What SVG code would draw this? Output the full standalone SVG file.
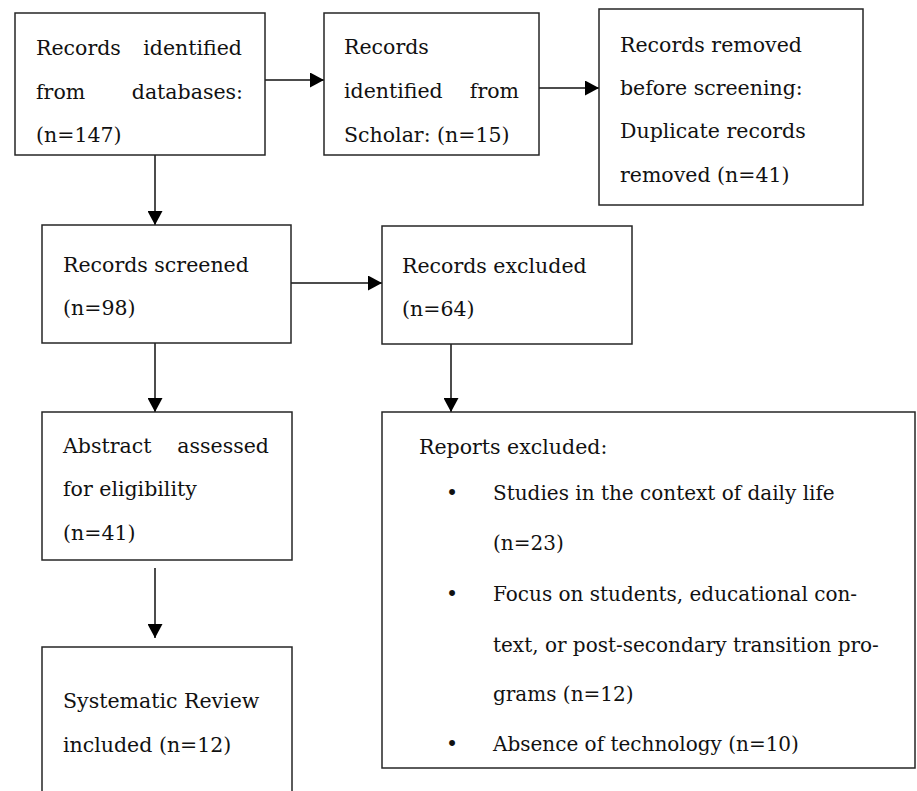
<svg xmlns="http://www.w3.org/2000/svg" width="917" height="791" viewBox="0 0 917 791">
<style>
  .box { fill: #ffffff; stroke: #262626; stroke-width: 1.5; }
  .t { font-family: "DejaVu Serif", "Liberation Serif", serif; font-size: 20.5px; fill: #111111; }
  .s { font-size: 20px; }
  .e { text-anchor: end; }
  .b { text-anchor: middle; }
  .conn line { stroke: #111111; stroke-width: 1.5; fill: none; marker-end: url(#arrow); }
</style>
<defs>
  <marker id="arrow" markerUnits="userSpaceOnUse" markerWidth="14" markerHeight="15" refX="14" refY="7.5" orient="auto">
    <path d="M0,0 L14,7.5 L0,15 z" fill="#000000"/>
  </marker>
</defs>
<rect width="917" height="791" fill="#ffffff"/>

<g id="connectors" class="conn">
  <line x1="265" y1="80" x2="324" y2="80"/>
  <line x1="539" y1="88" x2="599" y2="88"/>
  <line x1="155" y1="155" x2="155" y2="225"/>
  <line x1="291" y1="283" x2="382" y2="283"/>
  <line x1="155" y1="343" x2="155" y2="412"/>
  <line x1="451" y1="344" x2="451" y2="412"/>
  <line x1="155" y1="568" x2="155" y2="638"/>
</g>

<g id="n-databases">
  <rect class="box" x="15" y="13" width="250" height="142"/>
  <text class="t" x="36" y="55">Records</text>
  <text class="t e" x="242" y="55">identified</text>
  <text class="t" x="36" y="99">from</text>
  <text class="t e" x="243" y="99">databases:</text>
  <text class="t" x="36" y="142">(n=147)</text>
</g>

<g id="n-scholar">
  <rect class="box" x="324" y="13" width="215" height="142"/>
  <text class="t" x="344" y="54">Records</text>
  <text class="t" x="344" y="98">identified</text>
  <text class="t e" x="519" y="98">from</text>
  <text class="t" x="344" y="142">Scholar: (n=15)</text>
</g>

<g id="n-removed">
  <rect class="box" x="599" y="9" width="264" height="196"/>
  <text class="t" x="620" y="52">Records removed</text>
  <text class="t" x="620" y="95">before screening:</text>
  <text class="t" x="620" y="138">Duplicate records</text>
  <text class="t" x="620" y="182">removed (n=41)</text>
</g>

<g id="n-screened">
  <rect class="box" x="42" y="225" width="249" height="118"/>
  <text class="t" x="63" y="272">Records screened</text>
  <text class="t" x="63" y="315">(n=98)</text>
</g>

<g id="n-excluded">
  <rect class="box" x="382" y="226" width="250" height="118"/>
  <text class="t" x="402" y="273">Records excluded</text>
  <text class="t" x="402" y="316">(n=64)</text>
</g>

<g id="n-abstract">
  <rect class="box" x="42" y="412" width="250" height="148"/>
  <text class="t" x="63" y="453">Abstract</text>
  <text class="t e" x="269" y="453">assessed</text>
  <text class="t" x="63" y="496">for eligibility</text>
  <text class="t" x="63" y="540">(n=41)</text>
</g>

<g id="n-reports">
  <rect class="box" x="382" y="412" width="533" height="356"/>
  <text class="t" x="419" y="454">Reports excluded:</text>
  <text class="t b" x="452" y="500">•</text>
  <text class="t s" x="493" y="500">Studies in the context of daily life</text>
  <text class="t s" x="493" y="550">(n=23)</text>
  <text class="t b" x="452" y="601">•</text>
  <text class="t s" x="493" y="601">Focus on students, educational con-</text>
  <text class="t s" x="493" y="652">text, or post-secondary transition pro-</text>
  <text class="t s" x="493" y="701">grams (n=12)</text>
  <text class="t b" x="452" y="751">•</text>
  <text class="t s" x="493" y="751">Absence of technology (n=10)</text>
</g>

<g id="n-included">
  <rect class="box" x="42" y="647" width="250" height="160"/>
  <text class="t" x="63" y="708">Systematic Review</text>
  <text class="t" x="63" y="752">included (n=12)</text>
</g>
</svg>
